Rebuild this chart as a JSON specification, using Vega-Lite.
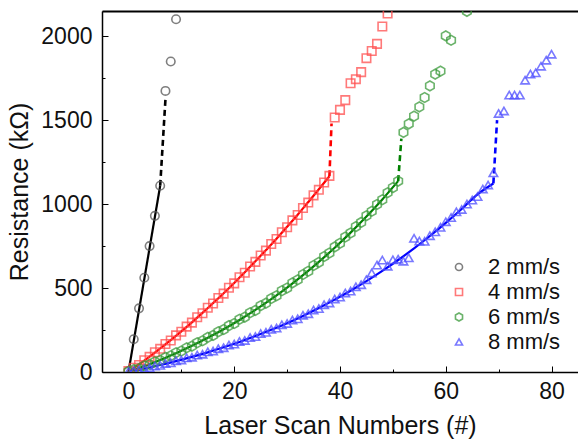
{
  "$schema": "https://vega.github.io/schema/vega-lite/v6.json",
  "width": 476,
  "height": 361,
  "autosize": {"type": "none"},
  "padding": {"left": 102, "top": 11, "right": 0, "bottom": 71},
  "background": "white",
  "view": {"stroke": "#999999", "strokeWidth": 1},
  "config": {
    "font": "Liberation Sans",
    "axis": {"labelFont": "Liberation Sans", "titleFont": "Liberation Sans", "labelColor": "#111", "titleColor": "#111", "grid": false}
  },
  "datasets": {
    "pts": [
      {"s": "2 mm/s", "x": 0, "y": 5}, {"s": "2 mm/s", "x": 1, "y": 195}, {"s": "2 mm/s", "x": 2, "y": 379}, {"s": "2 mm/s", "x": 3, "y": 561}, {"s": "2 mm/s", "x": 4, "y": 750}, {"s": "2 mm/s", "x": 5, "y": 930}, {"s": "2 mm/s", "x": 6, "y": 1109}, {"s": "2 mm/s", "x": 7, "y": 1674}, {"s": "2 mm/s", "x": 8, "y": 1849}, {"s": "2 mm/s", "x": 9, "y": 2101},
      {"s": "4 mm/s", "x": 0, "y": 5}, {"s": "4 mm/s", "x": 1, "y": 25}, {"s": "4 mm/s", "x": 2, "y": 42}, {"s": "4 mm/s", "x": 3, "y": 70}, {"s": "4 mm/s", "x": 4, "y": 90}, {"s": "4 mm/s", "x": 5, "y": 118}, {"s": "4 mm/s", "x": 6, "y": 138}, {"s": "4 mm/s", "x": 7, "y": 167}, {"s": "4 mm/s", "x": 8, "y": 188}, {"s": "4 mm/s", "x": 9, "y": 218}, {"s": "4 mm/s", "x": 10, "y": 240}, {"s": "4 mm/s", "x": 11, "y": 270}, {"s": "4 mm/s", "x": 12, "y": 294}, {"s": "4 mm/s", "x": 13, "y": 326}, {"s": "4 mm/s", "x": 14, "y": 350}, {"s": "4 mm/s", "x": 15, "y": 383}, {"s": "4 mm/s", "x": 16, "y": 408}, {"s": "4 mm/s", "x": 17, "y": 441}, {"s": "4 mm/s", "x": 18, "y": 467}, {"s": "4 mm/s", "x": 19, "y": 502}, {"s": "4 mm/s", "x": 20, "y": 528}, {"s": "4 mm/s", "x": 21, "y": 564}, {"s": "4 mm/s", "x": 22, "y": 591}, {"s": "4 mm/s", "x": 23, "y": 628}, {"s": "4 mm/s", "x": 24, "y": 656}, {"s": "4 mm/s", "x": 25, "y": 694}, {"s": "4 mm/s", "x": 26, "y": 723}, {"s": "4 mm/s", "x": 27, "y": 762}, {"s": "4 mm/s", "x": 28, "y": 792}, {"s": "4 mm/s", "x": 29, "y": 832}, {"s": "4 mm/s", "x": 30, "y": 862}, {"s": "4 mm/s", "x": 31, "y": 903}, {"s": "4 mm/s", "x": 32, "y": 935}, {"s": "4 mm/s", "x": 33, "y": 977}, {"s": "4 mm/s", "x": 34, "y": 1009}, {"s": "4 mm/s", "x": 35, "y": 1052}, {"s": "4 mm/s", "x": 36, "y": 1085}, {"s": "4 mm/s", "x": 37, "y": 1129}, {"s": "4 mm/s", "x": 38, "y": 1168}, {"s": "4 mm/s", "x": 39, "y": 1516}, {"s": "4 mm/s", "x": 40, "y": 1561}, {"s": "4 mm/s", "x": 41, "y": 1619}, {"s": "4 mm/s", "x": 42, "y": 1720}, {"s": "4 mm/s", "x": 43, "y": 1744}, {"s": "4 mm/s", "x": 44, "y": 1786}, {"s": "4 mm/s", "x": 45, "y": 1869}, {"s": "4 mm/s", "x": 46, "y": 1912}, {"s": "4 mm/s", "x": 47, "y": 1954}, {"s": "4 mm/s", "x": 48, "y": 2058}, {"s": "4 mm/s", "x": 49, "y": 2135},
      {"s": "6 mm/s", "x": 0, "y": 3}, {"s": "6 mm/s", "x": 1, "y": 14}, {"s": "6 mm/s", "x": 2, "y": 21}, {"s": "6 mm/s", "x": 3, "y": 37}, {"s": "6 mm/s", "x": 4, "y": 45}, {"s": "6 mm/s", "x": 5, "y": 61}, {"s": "6 mm/s", "x": 6, "y": 70}, {"s": "6 mm/s", "x": 7, "y": 87}, {"s": "6 mm/s", "x": 8, "y": 97}, {"s": "6 mm/s", "x": 9, "y": 115}, {"s": "6 mm/s", "x": 10, "y": 125}, {"s": "6 mm/s", "x": 11, "y": 144}, {"s": "6 mm/s", "x": 12, "y": 154}, {"s": "6 mm/s", "x": 13, "y": 174}, {"s": "6 mm/s", "x": 14, "y": 186}, {"s": "6 mm/s", "x": 15, "y": 206}, {"s": "6 mm/s", "x": 16, "y": 218}, {"s": "6 mm/s", "x": 17, "y": 240}, {"s": "6 mm/s", "x": 18, "y": 253}, {"s": "6 mm/s", "x": 19, "y": 276}, {"s": "6 mm/s", "x": 20, "y": 289}, {"s": "6 mm/s", "x": 21, "y": 314}, {"s": "6 mm/s", "x": 22, "y": 327}, {"s": "6 mm/s", "x": 23, "y": 353}, {"s": "6 mm/s", "x": 24, "y": 367}, {"s": "6 mm/s", "x": 25, "y": 395}, {"s": "6 mm/s", "x": 26, "y": 410}, {"s": "6 mm/s", "x": 27, "y": 438}, {"s": "6 mm/s", "x": 28, "y": 454}, {"s": "6 mm/s", "x": 29, "y": 484}, {"s": "6 mm/s", "x": 30, "y": 500}, {"s": "6 mm/s", "x": 31, "y": 531}, {"s": "6 mm/s", "x": 32, "y": 549}, {"s": "6 mm/s", "x": 33, "y": 581}, {"s": "6 mm/s", "x": 34, "y": 600}, {"s": "6 mm/s", "x": 35, "y": 634}, {"s": "6 mm/s", "x": 36, "y": 653}, {"s": "6 mm/s", "x": 37, "y": 688}, {"s": "6 mm/s", "x": 38, "y": 709}, {"s": "6 mm/s", "x": 39, "y": 745}, {"s": "6 mm/s", "x": 40, "y": 767}, {"s": "6 mm/s", "x": 41, "y": 804}, {"s": "6 mm/s", "x": 42, "y": 828}, {"s": "6 mm/s", "x": 43, "y": 866}, {"s": "6 mm/s", "x": 44, "y": 891}, {"s": "6 mm/s", "x": 45, "y": 931}, {"s": "6 mm/s", "x": 46, "y": 957}, {"s": "6 mm/s", "x": 47, "y": 998}, {"s": "6 mm/s", "x": 48, "y": 1026}, {"s": "6 mm/s", "x": 49, "y": 1068}, {"s": "6 mm/s", "x": 50, "y": 1098}, {"s": "6 mm/s", "x": 51, "y": 1137}, {"s": "6 mm/s", "x": 52, "y": 1427}, {"s": "6 mm/s", "x": 53, "y": 1478}, {"s": "6 mm/s", "x": 54, "y": 1524}, {"s": "6 mm/s", "x": 55, "y": 1579}, {"s": "6 mm/s", "x": 56, "y": 1635}, {"s": "6 mm/s", "x": 57, "y": 1704}, {"s": "6 mm/s", "x": 58, "y": 1774}, {"s": "6 mm/s", "x": 59, "y": 1792}, {"s": "6 mm/s", "x": 60, "y": 2002}, {"s": "6 mm/s", "x": 61, "y": 1976}, {"s": "6 mm/s", "x": 64, "y": 2148},
      {"s": "8 mm/s", "x": 0, "y": 3}, {"s": "8 mm/s", "x": 1, "y": 8}, {"s": "8 mm/s", "x": 2, "y": 12}, {"s": "8 mm/s", "x": 3, "y": 21}, {"s": "8 mm/s", "x": 4, "y": 25}, {"s": "8 mm/s", "x": 5, "y": 36}, {"s": "8 mm/s", "x": 6, "y": 40}, {"s": "8 mm/s", "x": 7, "y": 51}, {"s": "8 mm/s", "x": 8, "y": 55}, {"s": "8 mm/s", "x": 9, "y": 67}, {"s": "8 mm/s", "x": 10, "y": 72}, {"s": "8 mm/s", "x": 11, "y": 84}, {"s": "8 mm/s", "x": 12, "y": 88}, {"s": "8 mm/s", "x": 13, "y": 101}, {"s": "8 mm/s", "x": 14, "y": 106}, {"s": "8 mm/s", "x": 15, "y": 120}, {"s": "8 mm/s", "x": 16, "y": 125}, {"s": "8 mm/s", "x": 17, "y": 139}, {"s": "8 mm/s", "x": 18, "y": 145}, {"s": "8 mm/s", "x": 19, "y": 160}, {"s": "8 mm/s", "x": 20, "y": 166}, {"s": "8 mm/s", "x": 21, "y": 182}, {"s": "8 mm/s", "x": 22, "y": 188}, {"s": "8 mm/s", "x": 23, "y": 205}, {"s": "8 mm/s", "x": 24, "y": 211}, {"s": "8 mm/s", "x": 25, "y": 229}, {"s": "8 mm/s", "x": 26, "y": 236}, {"s": "8 mm/s", "x": 27, "y": 254}, {"s": "8 mm/s", "x": 28, "y": 262}, {"s": "8 mm/s", "x": 29, "y": 281}, {"s": "8 mm/s", "x": 30, "y": 289}, {"s": "8 mm/s", "x": 31, "y": 309}, {"s": "8 mm/s", "x": 32, "y": 317}, {"s": "8 mm/s", "x": 33, "y": 338}, {"s": "8 mm/s", "x": 34, "y": 347}, {"s": "8 mm/s", "x": 35, "y": 369}, {"s": "8 mm/s", "x": 36, "y": 378}, {"s": "8 mm/s", "x": 37, "y": 401}, {"s": "8 mm/s", "x": 38, "y": 411}, {"s": "8 mm/s", "x": 39, "y": 434}, {"s": "8 mm/s", "x": 40, "y": 446}, {"s": "8 mm/s", "x": 41, "y": 470}, {"s": "8 mm/s", "x": 42, "y": 482}, {"s": "8 mm/s", "x": 43, "y": 507}, {"s": "8 mm/s", "x": 44, "y": 520}, {"s": "8 mm/s", "x": 45, "y": 550}, {"s": "8 mm/s", "x": 46, "y": 590}, {"s": "8 mm/s", "x": 47, "y": 637}, {"s": "8 mm/s", "x": 48, "y": 667}, {"s": "8 mm/s", "x": 49, "y": 630}, {"s": "8 mm/s", "x": 50, "y": 668}, {"s": "8 mm/s", "x": 51, "y": 672}, {"s": "8 mm/s", "x": 52, "y": 660}, {"s": "8 mm/s", "x": 53, "y": 680}, {"s": "8 mm/s", "x": 54, "y": 796}, {"s": "8 mm/s", "x": 55, "y": 780}, {"s": "8 mm/s", "x": 56, "y": 778}, {"s": "8 mm/s", "x": 57, "y": 812}, {"s": "8 mm/s", "x": 58, "y": 835}, {"s": "8 mm/s", "x": 59, "y": 862}, {"s": "8 mm/s", "x": 60, "y": 895}, {"s": "8 mm/s", "x": 61, "y": 920}, {"s": "8 mm/s", "x": 62, "y": 954}, {"s": "8 mm/s", "x": 63, "y": 968}, {"s": "8 mm/s", "x": 64, "y": 1000}, {"s": "8 mm/s", "x": 65, "y": 1024}, {"s": "8 mm/s", "x": 66, "y": 1045}, {"s": "8 mm/s", "x": 67, "y": 1090}, {"s": "8 mm/s", "x": 68, "y": 1113}, {"s": "8 mm/s", "x": 69, "y": 1186}, {"s": "8 mm/s", "x": 70, "y": 1540}, {"s": "8 mm/s", "x": 71, "y": 1555}, {"s": "8 mm/s", "x": 72, "y": 1649}, {"s": "8 mm/s", "x": 73, "y": 1649}, {"s": "8 mm/s", "x": 74, "y": 1649}, {"s": "8 mm/s", "x": 75, "y": 1738}, {"s": "8 mm/s", "x": 76, "y": 1774}, {"s": "8 mm/s", "x": 77, "y": 1782}, {"s": "8 mm/s", "x": 78, "y": 1821}, {"s": "8 mm/s", "x": 79, "y": 1857}, {"s": "8 mm/s", "x": 80, "y": 1893}
    ],
    "fit": [
      {"s": "2 mm/s", "x": 0, "y": 0}, {"s": "2 mm/s", "x": 6, "y": 1109},
      {"s": "4 mm/s", "x": 0, "y": 0}, {"s": "4 mm/s", "x": 2, "y": 45}, {"s": "4 mm/s", "x": 4, "y": 91}, {"s": "4 mm/s", "x": 6, "y": 140}, {"s": "4 mm/s", "x": 8, "y": 190}, {"s": "4 mm/s", "x": 10, "y": 242}, {"s": "4 mm/s", "x": 12, "y": 296}, {"s": "4 mm/s", "x": 14, "y": 352}, {"s": "4 mm/s", "x": 16, "y": 410}, {"s": "4 mm/s", "x": 18, "y": 469}, {"s": "4 mm/s", "x": 20, "y": 530}, {"s": "4 mm/s", "x": 22, "y": 594}, {"s": "4 mm/s", "x": 24, "y": 659}, {"s": "4 mm/s", "x": 26, "y": 726}, {"s": "4 mm/s", "x": 28, "y": 794}, {"s": "4 mm/s", "x": 30, "y": 865}, {"s": "4 mm/s", "x": 32, "y": 937}, {"s": "4 mm/s", "x": 34, "y": 1012}, {"s": "4 mm/s", "x": 36, "y": 1088}, {"s": "4 mm/s", "x": 38, "y": 1166},
      {"s": "6 mm/s", "x": 0, "y": 0}, {"s": "6 mm/s", "x": 3, "y": 34}, {"s": "6 mm/s", "x": 6, "y": 72}, {"s": "6 mm/s", "x": 9, "y": 112}, {"s": "6 mm/s", "x": 12, "y": 156}, {"s": "6 mm/s", "x": 15, "y": 204}, {"s": "6 mm/s", "x": 18, "y": 255}, {"s": "6 mm/s", "x": 21, "y": 310}, {"s": "6 mm/s", "x": 24, "y": 370}, {"s": "6 mm/s", "x": 27, "y": 434}, {"s": "6 mm/s", "x": 30, "y": 503}, {"s": "6 mm/s", "x": 33, "y": 577}, {"s": "6 mm/s", "x": 36, "y": 656}, {"s": "6 mm/s", "x": 39, "y": 740}, {"s": "6 mm/s", "x": 42, "y": 830}, {"s": "6 mm/s", "x": 45, "y": 926}, {"s": "6 mm/s", "x": 48, "y": 1028}, {"s": "6 mm/s", "x": 51, "y": 1137},
      {"s": "8 mm/s", "x": 0, "y": 0}, {"s": "8 mm/s", "x": 3, "y": 20}, {"s": "8 mm/s", "x": 6, "y": 42}, {"s": "8 mm/s", "x": 9, "y": 65}, {"s": "8 mm/s", "x": 12, "y": 90}, {"s": "8 mm/s", "x": 15, "y": 117}, {"s": "8 mm/s", "x": 18, "y": 147}, {"s": "8 mm/s", "x": 21, "y": 179}, {"s": "8 mm/s", "x": 24, "y": 214}, {"s": "8 mm/s", "x": 27, "y": 251}, {"s": "8 mm/s", "x": 30, "y": 291}, {"s": "8 mm/s", "x": 33, "y": 334}, {"s": "8 mm/s", "x": 36, "y": 381}, {"s": "8 mm/s", "x": 39, "y": 431}, {"s": "8 mm/s", "x": 42, "y": 484}, {"s": "8 mm/s", "x": 45, "y": 541}, {"s": "8 mm/s", "x": 48, "y": 602}, {"s": "8 mm/s", "x": 51, "y": 667}, {"s": "8 mm/s", "x": 54, "y": 736}, {"s": "8 mm/s", "x": 57, "y": 810}, {"s": "8 mm/s", "x": 60, "y": 888}, {"s": "8 mm/s", "x": 63, "y": 971}, {"s": "8 mm/s", "x": 66, "y": 1058}, {"s": "8 mm/s", "x": 69, "y": 1123}
    ],
    "jump": [
      {"s": "2 mm/s", "x": 6, "y": 1109}, {"s": "2 mm/s", "x": 7, "y": 1625},
      {"s": "4 mm/s", "x": 38, "y": 1166}, {"s": "4 mm/s", "x": 38.4, "y": 1480},
      {"s": "6 mm/s", "x": 51, "y": 1137}, {"s": "6 mm/s", "x": 51.6, "y": 1390},
      {"s": "8 mm/s", "x": 69, "y": 1123}, {"s": "8 mm/s", "x": 69.7, "y": 1500}
    ]
  },
  "layer": [
    {
      "data": {"name": "fit"},
      "mark": {"type": "line", "strokeWidth": 2.2, "interpolate": "monotone", "clip": true},
      "encoding": {
        "x": {"field": "x", "type": "quantitative", "scale": {"domain": [-5, 85], "nice": false, "zero": false},
          "axis": {"orient": "bottom", "values": [10, 30, 50, 70], "labels": false, "domain": false, "tickSize": -3, "tickColor": "#000", "title": null}},
        "y": {"field": "y", "type": "quantitative", "scale": {"domain": [0, 2150], "nice": false},
          "axis": {"orient": "left", "values": [250, 750, 1250, 1750], "labels": false, "domain": false, "tickSize": -3, "tickColor": "#000", "title": null}},
        "stroke": {"field": "s", "type": "nominal", "scale": {"domain": ["2 mm/s", "4 mm/s", "6 mm/s", "8 mm/s"], "range": ["#000000", "#ff0000", "#008000", "#0000ff"]}, "legend": null}
      }
    },
    {
      "data": {"name": "jump"},
      "mark": {"type": "line", "strokeWidth": 2.6, "strokeDash": [6, 4], "clip": true},
      "encoding": {
        "x": {"field": "x", "type": "quantitative",
          "axis": {"orient": "top", "labels": false, "ticks": false, "domainColor": "#000", "domainWidth": 2, "title": null}},
        "y": {"field": "y", "type": "quantitative", "axis": null},
        "stroke": {"field": "s", "type": "nominal", "legend": null}
      }
    },
    {
      "data": {"name": "pts"},
      "mark": {"type": "point", "filled": false, "size": 72, "strokeWidth": 1.6, "opacity": 0.75, "clip": true},
      "encoding": {
        "x": {"field": "x", "type": "quantitative",
          "axis": {"orient": "bottom", "values": [0, 20, 40, 60, 80], "tickSize": -6, "tickColor": "#000", "domainColor": "#000", "domainWidth": 1.5, "labelFontSize": 23, "labelPadding": 14, "title": "Laser Scan Numbers (#)", "titleFontSize": 25, "titleFontWeight": "normal", "titlePadding": 10}},
        "y": {"field": "y", "type": "quantitative",
          "axis": {"orient": "left", "values": [0, 500, 1000, 1500, 2000], "format": "d", "tickSize": -6, "tickColor": "#000", "domainColor": "#000", "domainWidth": 1.5, "labelFontSize": 23, "labelPadding": 16, "title": "Resistance (kΩ)", "titleFontSize": 25, "titleFontWeight": "normal", "titlePadding": 8}},
        "color": {"field": "s", "type": "nominal", "title": null,
          "scale": {"domain": ["2 mm/s", "4 mm/s", "6 mm/s", "8 mm/s"], "range": ["#555555", "#ff4d4d", "#3a9a3a", "#4d4dff"]},
          "legend": {"orient": "none", "legendX": 346, "legendY": 245, "labelFontSize": 22, "labelFont": "Liberation Sans", "labelColor": "#111", "symbolSize": 50, "symbolStrokeWidth": 1.6, "rowPadding": 3, "labelOffset": 18, "symbolOffset": 0}},
        "shape": {"field": "s", "type": "nominal", "title": null,
          "scale": {"domain": ["2 mm/s", "4 mm/s", "6 mm/s", "8 mm/s"], "range": ["circle", "square", "M1,-0.58L1,0.58L0,1.15L-1,0.58L-1,-0.58L0,-1.15Z", "triangle-up"]},
          "legend": {"orient": "none", "legendX": 346, "legendY": 245, "labelFontSize": 22, "labelFont": "Liberation Sans", "labelColor": "#111", "symbolSize": 50, "symbolStrokeWidth": 1.6, "rowPadding": 3, "labelOffset": 18, "symbolOffset": 0}}
      }
    }
  ],
  "resolve": {"axis": {"x": "independent", "y": "independent"}, "legend": {"color": "independent", "shape": "independent", "stroke": "independent"}}
}
